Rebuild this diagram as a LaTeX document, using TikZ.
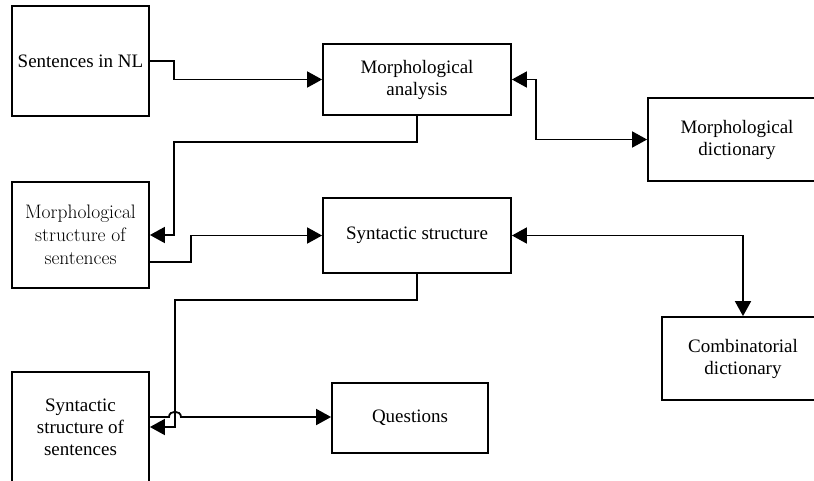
\documentclass[tikz,border=0pt]{standalone}
\usepackage{fontspec}
\setmainfont{Liberation Serif}
\usetikzlibrary{arrows.meta}

\tikzset{
  box/.style={draw, line width=1.8pt, rectangle, inner sep=0pt, align=center,
    font=\fontsize{19}{22}\selectfont},
  lmbox/.style={box, font=\fontfamily{lmr}\fontsize{19.5}{23}\selectfont},
  conn/.style={line width=1.8pt},
  tip/.tip={Triangle[length=15pt,width=16pt]},
  arr/.style={conn, -tip},
  dbl/.style={conn, tip-tip}
}

\begin{document}
\begin{tikzpicture}[x=1pt,y=-1pt]
  \useasboundingbox (0,0) rectangle (814,480);

  % boxes
  \node[box, minimum width=137pt, minimum height=110pt] (nl)  at (80.5,61)  {Sentences in NL};
  \node[box, minimum width=188pt, minimum height=71pt]  (ma)  at (417,79.5) {Morphological\\analysis};
  \node[box, minimum width=178pt, minimum height=83pt]  (md)  at (737,139.5) {Morphological\\dictionary};
  \node[lmbox, minimum width=137pt, minimum height=106pt] (mst) at (80.5,235) {Morphological\\structure of\\sentences};
  \node[box, minimum width=188pt, minimum height=75pt]  (ss)  at (417,235.5) {Syntactic structure};
  \node[box, minimum width=162pt, minimum height=83pt]  (cd)  at (743,358.5) {Combinatorial\\dictionary};
  \node[box, minimum width=137pt, minimum height=110pt] (sss) at (80.5,427) {Syntactic\\structure of\\sentences};
  \node[box, minimum width=156pt, minimum height=70pt]  (q)   at (410,418)  {Questions};

  % connectors
  \draw[arr] (nl.east) -- (174,61) |- (ma.west);
  \draw[arr] (ma.south) |- (174,142) |- (mst.east);
  \draw[arr] (mst.east |- 0,262) -- (191,262) |- (ss.west);
  \draw[dbl] (ma.east) -| (536,139.5) -- (md.west);
  \draw[dbl] (ss.east) -| (cd.north);
  \draw[arr] (ss.south) |- (175,300) |- (sss.east);
  % line to the questions hops over the vertical connector
  \draw[arr] (sss.east |- 0,417) -- (169,417)
    .. controls (169,410) and (181,410) .. (181,417) -- (q.west |- 0,417);
\end{tikzpicture}
\end{document}
